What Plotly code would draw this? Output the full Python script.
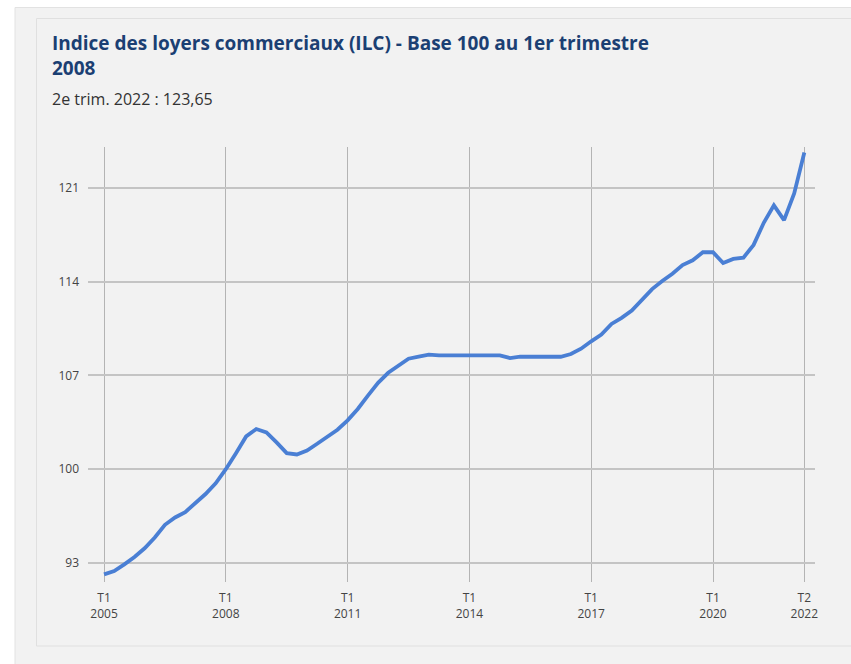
import plotly.graph_objects as go

# Indice des loyers commerciaux (ILC), base 100 au T1 2008, du T1 2005 au T2 2022
years = list(range(2005, 2023))
quarters = [f"T{q} {y}" for y in years for q in (1, 2, 3, 4)][:70]
ilc = [
    92.15, 92.4, 92.9, 93.45,
    94.1, 94.9, 95.85, 96.4,
    96.8, 97.45, 98.15, 98.95,
    100.0, 101.2, 102.45, 103.0,
    102.75, 102.0, 101.2, 101.1,
    101.4, 101.9, 102.4, 102.95,
    103.65, 104.5, 105.5, 106.45,
    107.2, 107.75, 108.25, 108.4,
    108.55, 108.5, 108.5, 108.5,
    108.5, 108.5, 108.55, 108.5,
    108.3, 108.4, 108.4, 108.4,
    108.4, 108.4, 108.6, 109.0,
    109.55, 110.05, 110.85, 111.3,
    111.85, 112.6, 113.45, 114.05,
    114.6, 115.25, 115.6, 116.2,
    116.2, 115.4, 115.7, 115.8,
    116.75, 118.4, 119.7, 118.6,
    120.6, 123.65,
]
x_ticks = ["T1 2005", "T1 2008", "T1 2011", "T1 2014", "T1 2017", "T1 2020", "T2 2022"]
y_ticks = [93, 100, 107, 114, 121]

title_text = "Indice des loyers commerciaux (ILC) - Base 100 au 1er trimestre<br>2008"
subtitle_text = "2e trim. 2022 : 123,65"

W, H = 851, 664
L, R, T, B = 88, 36, 147, 82
pw, ph = W - L - R, H - T - B


def px(xp):
    return (xp - L) / pw


def py(yp):
    return (H - B - yp) / ph


idx = list(range(len(quarters)))
tickvals = [quarters.index(q) for q in x_ticks]
ticktext = [q.replace(" ", "<br>") for q in x_ticks]

fig = go.Figure()
fig.add_trace(go.Scatter(
    x=idx, y=ilc, mode="lines",
    line=dict(color="#4a7fd4", width=3.8),
    hovertemplate="%{text} : %{y:.2f}<extra></extra>",
    text=quarters,
))

bg = "#f2f2f2"
fig.update_layout(
    width=W, height=H,
    margin=dict(l=L, r=R, t=T, b=B),
    paper_bgcolor="white",
    plot_bgcolor="rgba(0,0,0,0)",
    showlegend=False,
    font=dict(family="Open Sans", color="#444"),
    shapes=[
        dict(type="rect", xref="paper", yref="paper", layer="below",
             x0=px(15), x1=px(W + 10), y0=py(H + 10), y1=py(7.5),
             fillcolor=bg, line=dict(color="#e2e2e2", width=1)),
        dict(type="rect", xref="paper", yref="paper", layer="below",
             x0=px(36.5), x1=px(W + 10), y0=py(646), y1=py(18.5),
             fillcolor=bg, line=dict(color="#e0e0e0", width=1)),
    ],
    annotations=[
        dict(text=title_text, xref="paper", yref="paper", x=px(50), y=py(27.5),
             xanchor="left", yanchor="top", align="left", showarrow=False,
             font=dict(family="Open Sans", size=19, color="#1b3f73", weight="bold")),
        dict(text=subtitle_text, xref="paper", yref="paper", x=px(50), y=py(86),
             xanchor="left", yanchor="top", align="left", showarrow=False,
             font=dict(family="Open Sans", size=16, color="#333")),
    ],
)
fig.update_xaxes(
    range=[-1.58, 70.05], tickvals=tickvals, ticktext=ticktext,
    showgrid=True, gridcolor="#b4b4b4", gridwidth=1,
    zeroline=False, showline=False, ticks="", ticklabelstandoff=7,
    tickfont=dict(size=12, color="#444"), fixedrange=True,
)
fig.update_yaxes(
    range=[91.58, 124.06], tickvals=y_ticks,
    showgrid=True, gridcolor="#c4c4c4", gridwidth=1.5,
    zeroline=False, showline=False, ticks="", ticklabelstandoff=8,
    tickfont=dict(size=12, color="#444"), fixedrange=True,
)

fig.write_html("out.html", config={"displayModeBar": False})
